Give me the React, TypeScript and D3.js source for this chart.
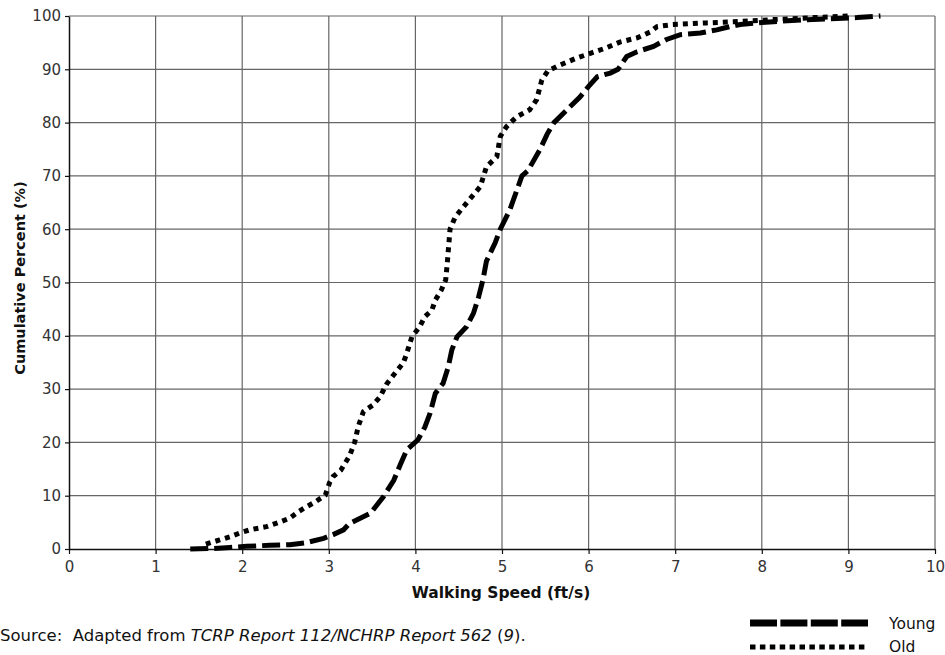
import React, { useEffect, useRef } from "react";
import * as d3 from "d3";

// walking speed (ft/s) vs cumulative percent
const youngSpeed = [
  1.4, 1.67, 1.86, 2.05, 2.32, 2.55, 2.74, 2.94, 3.05, 3.17, 3.24, 3.48, 3.63, 3.75, 3.83, 3.9,
  4.03, 4.11, 4.17, 4.23, 4.32, 4.38, 4.42, 4.48, 4.59, 4.67, 4.73, 4.78, 4.82, 4.92, 4.98, 5.09,
  5.23, 5.3, 5.44, 5.52, 5.6, 5.75, 5.9, 6.0, 6.1, 6.25, 6.34, 6.44, 6.56, 6.75, 6.9, 7.06, 7.29,
  7.48, 7.63, 7.75, 8.0, 8.4, 8.8, 9.1, 9.37,
];
const youngPct = [
  0, 0.1, 0.3, 0.5, 0.7, 0.8, 1.2, 2.0, 2.7, 3.6, 4.8, 6.7, 9.8, 12.9, 16, 18.6,
  20.5, 22.9, 25.5, 29.2, 31.1, 34.2, 37.3, 39.8, 41.7, 44.2, 47.3, 50.5, 54, 57.4, 60, 63.6,
  70, 71, 75, 77.8, 80, 82.4, 84.8, 86.8, 88.6, 89.3, 90, 92.4, 93.3, 94.3, 95.6, 96.5, 96.8,
  97.4, 98, 98.4, 98.8, 99.2, 99.5, 99.7, 100,
];

const oldSpeed = [
  1.58, 1.74, 1.86, 1.97, 2.09, 2.28, 2.44, 2.55, 2.65, 2.74, 2.84, 2.96, 3.01, 3.05, 3.14, 3.24,
  3.3, 3.34, 3.4, 3.51, 3.59, 3.67, 3.78, 3.86, 3.9, 3.96, 4.05, 4.11, 4.19, 4.23, 4.3, 4.35,
  4.37, 4.4, 4.46, 4.59, 4.75, 4.82, 4.94, 4.98, 5.05, 5.17, 5.32, 5.4, 5.46, 5.53, 5.67, 5.86,
  6.02, 6.2, 6.36, 6.56, 6.71, 6.79, 6.97, 7.36, 7.67, 8.1, 8.6, 9.0,
];
const oldPct = [
  0.9, 1.7, 2.3, 3.0, 3.6, 4.2, 5.1, 5.8, 7.0, 7.9, 8.8, 10.1, 12.5, 13.6, 14.8, 17.5,
  20.1, 23, 25.8, 27, 28.5, 31, 33.3, 34.9, 36.7, 39.8, 41.7, 43.6, 44.8, 46.7, 48.6, 50.5,
  54, 60, 62.3, 64.9, 68, 71.7, 73.6, 77.4, 79.2, 81.1, 82.4, 84.3, 88, 89.7, 90.8, 92.1,
  93, 94, 95.1, 95.9, 97, 98, 98.4, 98.7, 98.9, 99.3, 99.7, 100,
];

const xTicks = [0, 1, 2, 3, 4, 5, 6, 7, 8, 9, 10];
const yTicks = [0, 10, 20, 30, 40, 50, 60, 70, 80, 90, 100];

const W = 945;
const H = 655;
const font = "'DejaVu Sans', Verdana, sans-serif";

const App: React.FC = () => {
  const ref = useRef<SVGSVGElement>(null);

  useEffect(() => {
    if (!ref.current) return;
    const svg = d3.select(ref.current);
    svg.selectAll("*").remove();

    const x = d3.scaleLinear().domain([0, 10]).range([69, 935]);
    const y = d3.scaleLinear().domain([0, 100]).range([549, 16]);

    // grid
    const grid = svg.append("g").attr("stroke", "#666").attr("stroke-width", 1.2);
    xTicks.slice(1).forEach((t) => {
      grid.append("line").attr("x1", x(t)).attr("x2", x(t)).attr("y1", y(0)).attr("y2", y(100));
    });
    yTicks.slice(1).forEach((t) => {
      grid.append("line").attr("x1", x(0)).attr("x2", x(10)).attr("y1", y(t)).attr("y2", y(t));
    });

    // axes
    const xAxis = svg
      .append("g")
      .attr("transform", `translate(0,${y(0)})`)
      .call(d3.axisBottom(x).tickValues(xTicks).tickSize(5).tickSizeOuter(0).tickFormat(d3.format("d")));
    const yAxis = svg
      .append("g")
      .attr("transform", `translate(${x(0)},0)`)
      .call(d3.axisLeft(y).tickValues(yTicks).tickSize(4).tickSizeOuter(0).tickFormat(d3.format("d")));

    [xAxis, yAxis].forEach((a) => {
      a.select(".domain").attr("stroke", "#111").attr("stroke-width", 1.5);
      a.selectAll(".tick line").attr("stroke", "#111").attr("stroke-width", 1.2);
      a.selectAll(".tick text")
        .attr("font-family", font)
        .attr("font-size", 15)
        .attr("fill", "#333");
    });
    xAxis.selectAll(".tick text").attr("dy", "1em");
    yAxis.selectAll(".tick text").attr("x", -8);

    // titles
    svg
      .append("text")
      .attr("x", 501)
      .attr("y", 598)
      .attr("text-anchor", "middle")
      .attr("font-family", font)
      .attr("font-weight", "bold")
      .attr("font-size", 15.5)
      .attr("fill", "#111")
      .text("Walking Speed (ft/s)");
    svg
      .append("text")
      .attr("transform", `translate(25,278) rotate(-90)`)
      .attr("text-anchor", "middle")
      .attr("font-family", font)
      .attr("font-weight", "bold")
      .attr("font-size", 14.5)
      .attr("fill", "#111")
      .text("Cumulative Percent (%)");

    // curves
    const path = d3.line();
    const young = youngSpeed.map((s, i) => [x(s), y(youngPct[i])] as [number, number]);
    const old = oldSpeed.map((s, i) => [x(s), y(oldPct[i])] as [number, number]);

    svg
      .append("path")
      .attr("d", path(old))
      .attr("fill", "none")
      .attr("stroke", "#000")
      .attr("stroke-width", 5)
      .attr("stroke-dasharray", "5,5");
    svg
      .append("path")
      .attr("d", path(young))
      .attr("fill", "none")
      .attr("stroke", "#000")
      .attr("stroke-width", 5)
      .attr("stroke-dasharray", "18,6");

    // source note
    const src = svg
      .append("text")
      .attr("x", 0)
      .attr("y", 641)
      .attr("font-family", font)
      .attr("font-size", 16.5)
      .attr("fill", "#111");
    src.append("tspan").attr("xml:space", "preserve").text("Source:  Adapted from ");
    src.append("tspan").attr("font-style", "italic").text("TCRP Report 112/NCHRP Report 562");
    src.append("tspan").text(" (");
    src.append("tspan").attr("font-style", "italic").text("9");
    src.append("tspan").text(").");

    // legend
    const leg = svg.append("g");
    leg
      .append("line")
      .attr("x1", 750)
      .attr("x2", 868)
      .attr("y1", 623)
      .attr("y2", 623)
      .attr("stroke", "#000")
      .attr("stroke-width", 7)
      .attr("stroke-dasharray", "27,3.4");
    leg
      .append("line")
      .attr("x1", 750)
      .attr("x2", 868)
      .attr("y1", 647)
      .attr("y2", 647)
      .attr("stroke", "#000")
      .attr("stroke-width", 5)
      .attr("stroke-dasharray", "5.5,4.4");
    leg
      .append("text")
      .attr("x", 889)
      .attr("y", 629)
      .attr("font-family", font)
      .attr("font-size", 15.5)
      .attr("fill", "#111")
      .text("Young");
    leg
      .append("text")
      .attr("x", 889)
      .attr("y", 652)
      .attr("font-family", font)
      .attr("font-size", 15.5)
      .attr("fill", "#111")
      .text("Old");
  }, []);

  return (
    <div style={{ position: "absolute", left: 0, top: 0, background: "#fff" }}>
      <svg ref={ref} width={W} height={H} style={{ display: "block" }} />
    </div>
  );
};

export default App;
